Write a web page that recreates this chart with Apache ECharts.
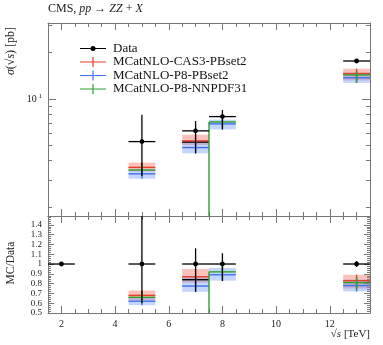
<!DOCTYPE html>
<html><head><meta charset="utf-8">
<script src="https://cdn.jsdelivr.net/npm/echarts@6/dist/echarts.min.js"></script>
<style>html,body{margin:0;padding:0;background:#fff}#c{width:383px;height:345px}</style>
</head><body><div id="c"></div>
<script>
// ---- data ----
const binCenters = [2, 5, 7, 8, 13];
const binLo = [1.5, 4.5, 6.5, 7.5, 12.5];
const binHi = [2.5, 5.5, 7.5, 8.5, 13.5];

const dataVal = [1.6, 5.3, 6.22, 7.69, 17.6];
const dataLo = [1.5, 3.18, 4.45, 6.35, 17.1];
const dataHi = [1.7, 7.9, 7.21, 8.49, 18.1];
const dataRatio = [1, 1, 1, 1, 1];
const dataRatioLo = [1, 0.6, 0.716, 0.826, 0.97];
const dataRatioHi = [1, 1.5, 1.16, 1.11, 1.03];

const redVal = [null, 3.61, 5.36, null, 14.6];
const redLo = [null, 3.40, 5.04, null, 13.2];
const redHi = [null, 3.88, 5.88, null, 15.7];
const redRatio = [null, 0.68, 0.87, null, 0.83];
const redRatioLo = [null, 0.63, 0.81, null, 0.75];
const redRatioHi = [null, 0.73, 0.95, null, 0.89];

const blueVal = [null, 3.28, 4.85, 6.9, 13.7];
const blueLo = [null, 3.05, 4.45, 6.35, 12.7];
const blueHi = [null, 3.5, 5.37, 7.35, 14.8];
const blueRatio = [null, 0.62, 0.775, 0.89, 0.78];
const blueRatioLo = [null, 0.58, 0.716, 0.83, 0.72];
const blueRatioHi = [null, 0.66, 0.864, 0.96, 0.84];

const greenVal = [null, 3.47, 0, 7.1, 14.3];
const greenLo = [null, 3.2, 0, 6.65, 12.7];
const greenHi = [null, 3.75, 0, 7.5, 15.2];
const greenRatio = [null, 0.66, 0, 0.92, 0.81];
const greenRatioLo = [null, 0.6, 0, 0.87, 0.73];
const greenRatioHi = [null, 0.72, 0, 0.98, 0.87];

const extraVal = [null, null, 5.26, null, null];
const extraRatio = [null, null, 0.84, null, null];

// ---- ticks / labels ----
const xMajorTicks = [2, 4, 6, 8, 10, 12];
const xMinorTicks = [1.5,2.5,3,3.5,4.5,5,5.5,6.5,7,7.5,8.5,9,9.5,10.5,11,11.5,12.5,13,13.5];
const yMajorTicks = [10];
const yMinorTicks = [2,3,4,5,6,7,8,9,20,30];
const rMajorTicks = [0.5,0.6,0.7,0.8,0.9,1,1.1,1.2,1.3,1.4];
const rMinorTicks = [0.52,0.54,0.56,0.58,0.62,0.64,0.66,0.68,0.72,0.74,0.76,0.78,0.82,0.84,0.86,0.88,0.92,0.94,0.96,0.98,1.02,1.04,1.06,1.08,1.12,1.14,1.16,1.18,1.22,1.24,1.26,1.28,1.32,1.34,1.36,1.38,1.42,1.44,1.46,1.48];

const names = ['Data', 'MCatNLO-CAS3-PBset2', 'MCatNLO-P8-PBset2', 'MCatNLO-P8-NNPDF31'];

// ---- style ----
const FONT = 'Liberation Serif';
const AX = '#777';
const cRed = 'rgb(232,62,42)', cBlue = 'rgb(66,112,238)', cGreen = 'rgb(46,160,46)';
const bRed = 'rgba(242,110,95,0.42)', bBlue = 'rgba(95,140,248,0.36)';

function rows(v, lo, hi) {
  const out = [];
  for (let i = 0; i < binCenters.length; i++) {
    if (v[i] === null || v[i] === undefined) continue;
    const prevZero = (i > 0 && v[i - 1] === 0 && binHi[i - 1] === binLo[i]) ? 1 : 0;
    out.push([binCenters[i], binLo[i], binHi[i], v[i], lo ? lo[i] : v[i], hi ? hi[i] : v[i], prevZero]);
  }
  return out;
}

function mcRender(color, withErr) {
  return function (params, api) {
    const cs = params.coordSys;
    const xc = api.value(0), xl = api.value(1), xh = api.value(2), y = api.value(3);
    const lo = api.value(4), hi = api.value(5), pz = api.value(6);
    const ch = [];
    const st = { stroke: color, lineWidth: 1.4 };
    if (y > 0) {
      const a = api.coord([xl, y]), b = api.coord([xh, y]);
      ch.push({ type: 'line', shape: { x1: a[0], y1: a[1], x2: b[0], y2: b[1] }, style: st });
      if (withErr && lo > 0) {
        const c = api.coord([xc, lo]), d = api.coord([xc, hi]);
        ch.push({ type: 'line', shape: { x1: c[0], y1: c[1], x2: d[0], y2: d[1] }, style: st });
      }
      if (pz) {
        ch.push({ type: 'line', shape: { x1: a[0], y1: cs.y + cs.height, x2: a[0], y2: a[1] }, style: st });
      }
    }
    return { type: 'group', children: ch };
  };
}
function bandRender(color) {
  return function (params, api) {
    const xl = api.value(1), xh = api.value(2), lo = api.value(4), hi = api.value(5);
    const a = api.coord([xl, hi]), b = api.coord([xh, lo]);
    return { type: 'rect', shape: { x: a[0], y: a[1], width: b[0] - a[0], height: b[1] - a[1] }, style: { fill: color } };
  };
}
function dataRender(params, api) {
  const xc = api.value(0), xl = api.value(1), xh = api.value(2), y = api.value(3), lo = api.value(4), hi = api.value(5);
  const a = api.coord([xl, y]), b = api.coord([xh, y]), c = api.coord([xc, lo]), d = api.coord([xc, hi]), p = api.coord([xc, y]);
  const st = { stroke: '#000', lineWidth: 1.3 };
  return { type: 'group', children: [
    { type: 'line', shape: { x1: a[0], y1: a[1], x2: b[0], y2: b[1] }, style: st },
    { type: 'line', shape: { x1: c[0], y1: c[1], x2: d[0], y2: d[1] }, style: st },
    { type: 'circle', shape: { cx: p[0], cy: p[1], r: 2.4 }, style: { fill: '#000' } }
  ] };
}

function xAx(grid, pos, major, labels) {
  return {
    type: 'value', gridIndex: grid, position: pos, min: 1.5, max: 13.5,
    axisLine: { show: major, lineStyle: { color: AX, width: 1 } },
    axisTick: { show: true, inside: true, length: major ? 7 : 4, lineStyle: { color: AX },
      customValues: major ? xMajorTicks : xMinorTicks },
    axisLabel: labels ? { show: true, customValues: xMajorTicks, fontFamily: FONT, fontSize: 10, color: '#222', margin: 6 } : { show: false },
    splitLine: { show: false }
  };
}
function yLog(pos, major, labels) {
  return {
    type: 'log', logBase: 10, gridIndex: 0, position: pos, min: 1.75, max: 31,
    axisLine: { show: major, lineStyle: { color: AX } },
    axisTick: { show: true, inside: true, length: major ? 8 : 4, lineStyle: { color: AX },
      customValues: major ? yMajorTicks : yMinorTicks },
    axisLabel: labels ? { show: true, customValues: yMajorTicks, margin: 6,
      formatter: function () { return '{b|10}{s| 1}'; },
      rich: { b: { fontFamily: FONT, fontSize: 10, color: '#222' }, s: { fontFamily: FONT, fontSize: 7, color: '#222', verticalAlign: 'top', padding: [0, 0, 6, 0] } } } : { show: false },
    splitLine: { show: false }, minorTick: { show: false }
  };
}
function yRat(pos, major, labels) {
  return {
    type: 'value', gridIndex: 1, position: pos, min: 0.5, max: 1.49,
    axisLine: { show: major, lineStyle: { color: AX } },
    axisTick: { show: true, inside: true, length: major ? 6 : 3, lineStyle: { color: AX },
      customValues: major ? rMajorTicks : rMinorTicks },
    axisLabel: labels ? { show: true, customValues: rMajorTicks, margin: 6, fontFamily: FONT, fontSize: 9, color: '#222',
      formatter: function (v) { return String(Math.round(v * 10) / 10); } } : { show: false },
    splitLine: { show: false }
  };
}

const chart = echarts.init(document.getElementById('c'), null, { renderer: 'canvas' });
const lineIcon = 'path://M0,4.4h26v1.2h-26z M12.4,0h1.2v10h-1.2z';
const dataIcon = 'path://M0,4.4h26v1.2h-26z M15.5,5a2.5,2.5 0 1,1 -5,0a2.5,2.5 0 1,1 5,0z';

function cs(name, xi, yi, data, render, z) {
  return { type: 'custom', name: name, xAxisIndex: xi, yAxisIndex: yi, data: data, renderItem: render, clip: true, z: z, silent: true };
}

const series = [
  cs('redBand', 0, 0, rows(redVal, redLo, redHi), bandRender(bRed), 1),
  cs('blueBand', 0, 0, rows(blueVal, blueLo, blueHi), bandRender(bBlue), 1),
  cs('redBandR', 4, 4, rows(redRatio, redRatioLo, redRatioHi), bandRender(bRed), 1),
  cs('blueBandR', 4, 4, rows(blueRatio, blueRatioLo, blueRatioHi), bandRender(bBlue), 1),
  cs('extra', 0, 0, rows(extraVal), mcRender('#000', false), 2),
  cs('extraR', 4, 4, rows(extraRatio), mcRender('#000', false), 2),
  Object.assign(cs(names[1], 0, 0, rows(redVal, redLo, redHi), mcRender(cRed, true), 3), { itemStyle: { color: cRed } }),
  Object.assign(cs(names[1], 4, 4, rows(redRatio, redRatioLo, redRatioHi), mcRender(cRed, true), 3), { itemStyle: { color: cRed } }),
  Object.assign(cs(names[2], 0, 0, rows(blueVal, blueLo, blueHi), mcRender(cBlue, true), 3), { itemStyle: { color: cBlue } }),
  Object.assign(cs(names[2], 4, 4, rows(blueRatio, blueRatioLo, blueRatioHi), mcRender(cBlue, true), 3), { itemStyle: { color: cBlue } }),
  Object.assign(cs(names[3], 0, 0, rows(greenVal, greenLo, greenHi), mcRender(cGreen, true), 4), { itemStyle: { color: cGreen } }),
  Object.assign(cs(names[3], 4, 4, rows(greenRatio, greenRatioLo, greenRatioHi), mcRender(cGreen, true), 4), { itemStyle: { color: cGreen } }),
  Object.assign(cs(names[0], 0, 0, rows(dataVal, dataLo, dataHi), dataRender, 5), { itemStyle: { color: '#000' } }),
  Object.assign(cs(names[0], 4, 4, rows(dataRatio, dataRatioLo, dataRatioHi), dataRender, 5), { itemStyle: { color: '#000' } })
];

chart.setOption({
  animation: false,
  backgroundColor: '#fff',
  grid: [
    { left: 48, top: 23, width: 322, height: 193 },
    { left: 48, top: 216, width: 322, height: 97 }
  ],
  xAxis: [
    xAx(0, 'bottom', true, false), xAx(0, 'bottom', false, false),
    xAx(0, 'top', true, false), xAx(0, 'top', false, false),
    xAx(1, 'bottom', true, true), xAx(1, 'bottom', false, false),
    xAx(1, 'top', true, false), xAx(1, 'top', false, false)
  ],
  yAxis: [
    yLog('left', true, true), yLog('left', false, false),
    yLog('right', true, false), yLog('right', false, false),
    yRat('left', true, true), yRat('left', false, false),
    yRat('right', true, false), yRat('right', false, false)
  ],
  legend: {
    left: 80, top: 42, padding: 0, orient: 'vertical', itemWidth: 26, itemHeight: 10, itemGap: 0.5,
    data: [
      { name: names[0], icon: dataIcon },
      { name: names[1], icon: lineIcon },
      { name: names[2], icon: lineIcon },
      { name: names[3], icon: lineIcon }
    ],
    textStyle: { fontFamily: FONT, fontSize: 13, color: '#111', padding: [0, 0, 0, 2] },
    selectedMode: false
  },
  graphic: [
    { type: 'text', left: 48, top: 3, style: { text: '{n|CMS, }{i|pp}{n| → }{i|ZZ}{n| + }{i|X}',
      rich: { n: { fontFamily: FONT, fontSize: 12, fill: '#222' }, i: { fontFamily: FONT, fontSize: 12, fontStyle: 'italic', fill: '#222' } } } },
    { type: 'text', x: 11, y: 51, rotation: Math.PI / 2, style: { text: '{i|σ}{n|(√}{o|s}{n|) [pb]}', align: 'center', verticalAlign: 'middle',
      rich: { n: { fontFamily: FONT, fontSize: 12, fill: '#222' }, i: { fontFamily: FONT, fontSize: 12, fontStyle: 'italic', fill: '#222' }, o: { fontFamily: FONT, fontSize: 12, fontStyle: 'italic', fill: '#222' } } } },
    { type: 'text', x: 11, y: 263, rotation: Math.PI / 2, style: { text: 'MC/Data', align: 'center', verticalAlign: 'middle', fontFamily: FONT, fontSize: 11.5, fill: '#222' } },
    { type: 'text', right: 13, top: 329, style: { text: '{n|√}{i|s}{n| [TeV]}',
      rich: { n: { fontFamily: FONT, fontSize: 11, fill: '#222' }, i: { fontFamily: FONT, fontSize: 11, fontStyle: 'italic', fill: '#222' } } } }
  ],
  series: series
});
</script></body></html>
